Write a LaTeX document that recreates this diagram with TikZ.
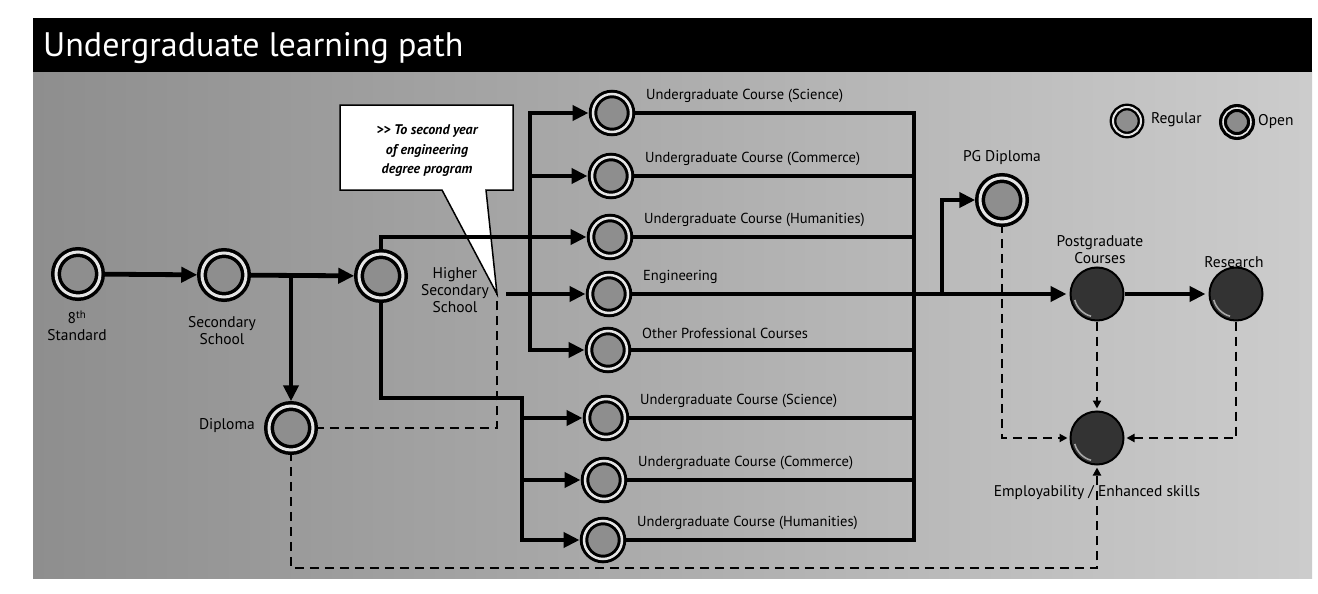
\documentclass[tikz,border=0pt]{standalone}
\usepackage{fontspec}
\setmainfont{PT Sans}
\usetikzlibrary{arrows.meta}
\definecolor{panelgray}{RGB}{142,142,142}
\definecolor{ringwhite}{RGB}{228,228,228}
\pgfdeclarelayer{bg}
\pgfsetlayers{bg,main}
\tikzset{
  regnode/.style={circle, draw=black, line width=3pt, double=ringwhite, double distance=2.5pt, fill=panelgray, minimum size=38pt, inner sep=0pt},
  bignode/.style={regnode, line width=3.5pt, double distance=3pt, minimum size=44pt},
  opennode/.style={circle, draw=black, line width=2pt, fill=black!80, minimum size=53pt, inner sep=0pt,
    path picture={\draw[gray!70, line width=1.6pt] ([shift={(195:23pt)}]path picture bounding box.center) arc[start angle=195, end angle=255, radius=23pt];}},
  lbl/.style={font=\fontsize{15.5}{17}\selectfont, align=center, inner sep=1pt},
  clbl/.style={font=\fontsize{14.5}{16}\selectfont, inner sep=1pt, anchor=west},
  flow/.style={line width=4.8pt, ->, >={Triangle[length=16pt,width=15pt]}, shorten >=3pt},
  conn/.style={line width=4.8pt},
  dashflow/.style={line width=2.5pt, dash pattern=on 9pt off 6pt, ->, >={Triangle[length=8pt,width=8pt]}, shorten >=2pt},
  dashline/.style={line width=2.5pt, dash pattern=on 9pt off 6pt},
  callout/.style={draw=black, line width=1.5pt, fill=white, line join=miter},
}
\begin{document}
\begin{tikzpicture}[x=1pt, y=-1pt]
\useasboundingbox (0,0) rectangle (1318,594);

\begin{pgfonlayer}{bg}
\fill[white] (0,0) rectangle (1318,594);
\shade[left color=panelgray, middle color=panelgray, right color=panelgray!45!white] (33,70) rectangle (1312,578);
\fill[black] (33,18) rectangle (1312,72);
\draw[callout] (340,105) -- (513,105) -- (513,190) -- (486,190) -- (497,294) -- (442,190) -- (340,190) -- cycle;
\end{pgfonlayer}

\node[font=\fontsize{34}{38}\selectfont, text=white, anchor=base west, inner sep=0pt] (title) at (43,57) {Undergraduate learning path};
\node[font=\fontsize{14}{19.5}\selectfont\bfseries\itshape, align=center] (note) at (427,151) {>{}> To second year\\of engineering\\degree program};

\node[bignode] (std) at (78,274) {};
\node[bignode] (sec) at (224,275) {};
\node[bignode] (hss) at (381,276) {};
\node[bignode] (dip) at (291,428) {};

\node[regnode] (sci) at (612,113) {};
\node[regnode] (com) at (611,176) {};
\node[regnode] (hum) at (610,237) {};
\node[regnode] (eng) at (609,294) {};
\node[regnode] (oth) at (608,350) {};
\node[regnode] (lsci) at (606,418) {};
\node[regnode] (lcom) at (604,480) {};
\node[regnode] (lhum) at (603,540) {};

\node[bignode] (pgd) at (1002,200) {};
\node[opennode] (pgc) at (1097,294) {};
\node[opennode] (res) at (1236,294) {};
\node[opennode] (emp) at (1097,438) {};

\node[regnode, minimum size=28pt, line width=2.4pt, double distance=2pt] (leg-reg) at (1127,121) {};
\node[regnode, minimum size=28pt, line width=3.2pt, double distance=1.6pt, fill=black!45] (leg-open) at (1237,122) {};

\coordinate (lbus) at (530,0);
\coordinate (hbus) at (522,398);
\coordinate (rbus) at (914,0);
\coordinate (branch) at (942,0);
\coordinate (tip) at (497,294);
\coordinate (lat) at (506,294);
\coordinate (low) at (0,568);

\node[lbl] (std-l) at (77,326) {8\textsuperscript{th}\\Standard};
\node[lbl] (sec-l) at (222,331) {Secondary\\School};
\node[lbl] (hss-l) at (455,290) {Higher\\Secondary\\School};
\node[lbl, anchor=east] (dip-l) at (256,426) {Diploma};
\foreach \c/\t in {sci/Undergraduate Course (Science), com/Undergraduate Course (Commerce), hum/Undergraduate Course (Humanities), eng/Engineering, oth/Other Professional Courses, lsci/Undergraduate Course (Science), lcom/Undergraduate Course (Commerce), lhum/Undergraduate Course (Humanities)}
  \node[clbl] (\c-l) at ([shift={(33,-17)}]\c) {\t};
\node[lbl] (pgd-l) at (1002,158) {PG Diploma};
\node[lbl] (pgc-l) at (1100,250) {Postgraduate\\Courses};
\node[lbl] (res-l) at (1234,262) {Research};
\node[lbl] (emp-l) at (1097,493) {Employability / Enhanced skills};
\node[lbl, anchor=west] (leg-reg-l) at (1150,120) {Regular};
\node[lbl, anchor=west] (leg-open-l) at (1257,122) {Open};

\begin{pgfonlayer}{bg}
\draw[flow] (std) -- (sec);
\draw[flow] (sec) -- (hss);
\draw[flow] (dip |- sec) -- (dip);
\draw[flow] (hss.north) |- (hum.west);
\draw[flow] (lbus |- hum.west) |- (sci.west);
\draw[flow] (lbus |- hum.west) |- (oth.west);
\draw[flow] (lbus |- com.west) -- (com.west);
\draw[flow] (lat) -- (eng.west);
\draw[flow] (hss.south) |- (hbus) |- (lsci.west);
\draw[flow] (hbus) |- (lhum.west);
\draw[flow] (hbus |- lcom.west) -- (lcom.west);
\draw[conn] (sci.east) -| (rbus |- lhum.east) -- (lhum.east);
\foreach \c in {com,hum,eng,oth,lsci,lcom}
  \draw[conn] (\c.east) -- (rbus |- \c.east);
\draw[flow] (rbus |- eng.east) -- (pgc);
\draw[flow] (branch |- pgc) |- (pgd.west);
\draw[flow] (pgc) -- (res);
\draw[dashline] (dip.east) -| (tip);
\draw[dashflow] (pgd.south) |- (emp.west);
\draw[dashflow] (pgc.south) -- (emp.north);
\draw[dashflow] (res.south) |- (emp.east);
\draw[dashflow] (dip.south) -- (dip |- low) -| (emp.south);
\end{pgfonlayer}
\end{tikzpicture}
\end{document}
